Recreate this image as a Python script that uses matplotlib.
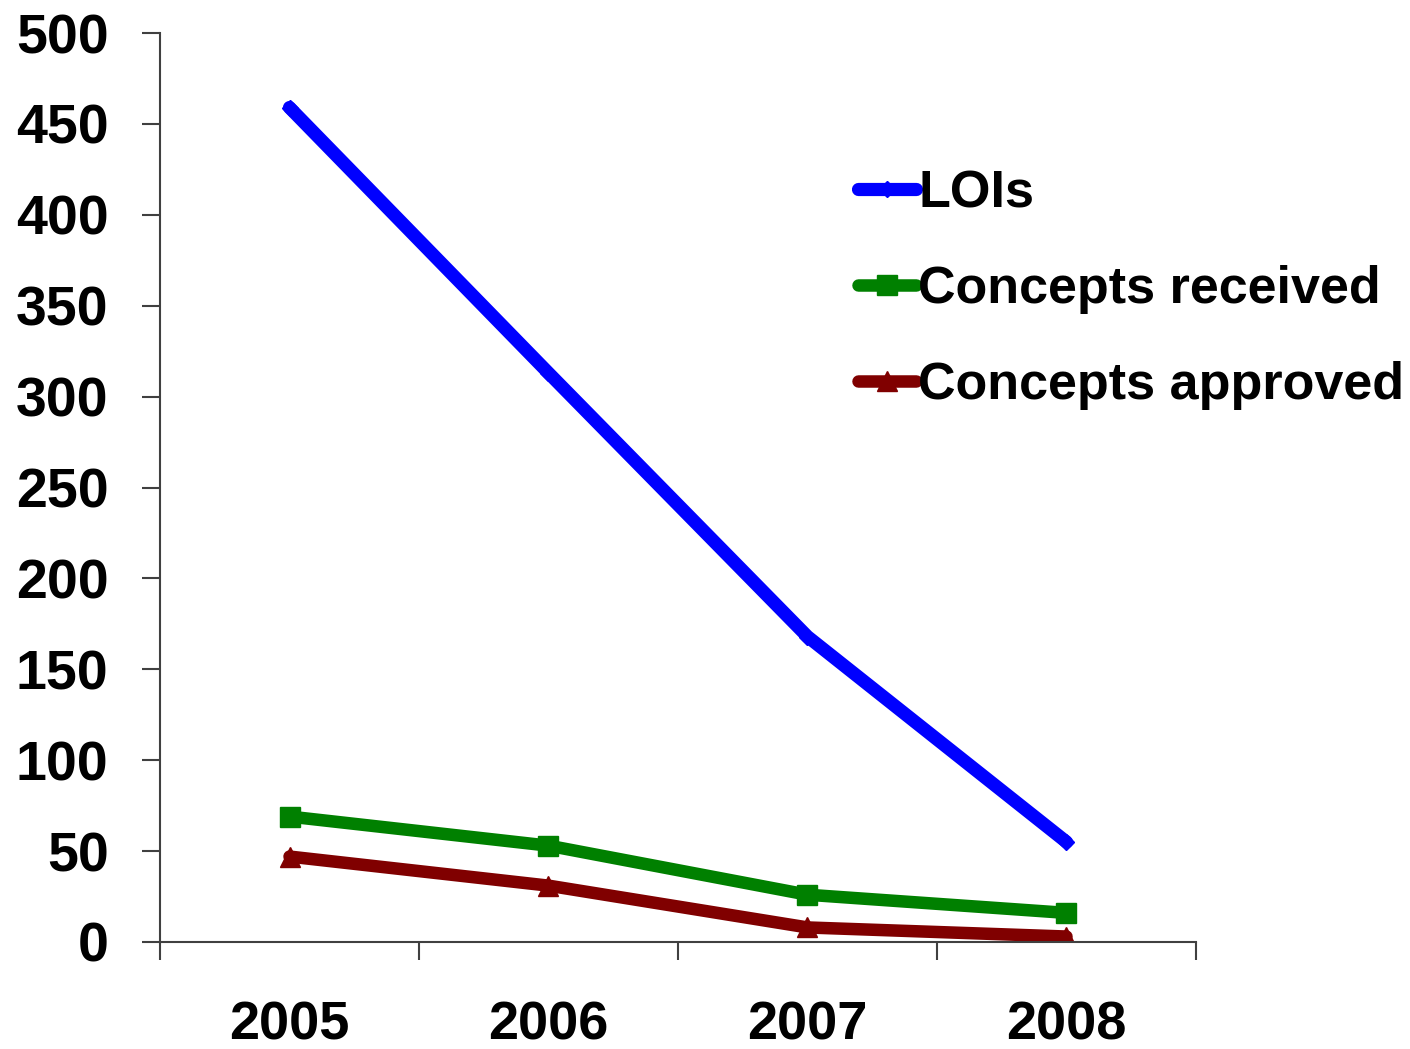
import matplotlib.pyplot as plt
from matplotlib.ticker import FixedLocator, NullFormatter

# ── 数据 ──────────────────────────────────────────
years = ["2005", "2006", "2007", "2008"]
lois = [459, 313, 168, 55]
concepts_received = [69, 53, 26, 16]
concepts_approved = [47, 31, 8, 3]
y_ticks = [0, 50, 100, 150, 200, 250, 300, 350, 400, 450, 500]

plt.rcParams['font.family'] = ['Liberation Sans', 'DejaVu Sans']
plt.rcParams['font.weight'] = 'bold'

fig = plt.figure(figsize=(14.1, 10.49), dpi=100)
ax = fig.add_axes([160 / 1410, 1 - 942 / 1049, (1196 - 160) / 1410, (942 - 33) / 1049])

xs = [i + 0.5 for i in range(len(years))]
ax.plot(xs, lois, color='#0000ff', lw=9.5, marker='D', ms=8,
        solid_capstyle='round', label='LOIs')
ax.plot(xs, concepts_received, color='#008000', lw=9, marker='s', ms=15,
        solid_capstyle='round', label='Concepts received')
ax.plot(xs, concepts_approved, color='#800000', lw=9, marker='^', ms=15,
        solid_capstyle='round', label='Concepts approved')

ax.set_xlim(0, len(years))
ax.set_ylim(0, 500)
ax.set_yticks(y_ticks)
ax.set_yticklabels([str(v) for v in y_ticks], fontsize=40, fontweight='bold')

# 分类边界刻度 + 居中标签
ax.xaxis.set_major_locator(FixedLocator(range(len(years) + 1)))
ax.xaxis.set_major_formatter(NullFormatter())
ax.xaxis.set_minor_locator(FixedLocator(xs))
ax.set_xticklabels(years, minor=True, fontsize=39, fontweight='bold')
ax.tick_params(axis='x', which='minor', length=0, pad=42)
ax.tick_params(axis='x', which='major', length=13, width=1.5, color='#404040')
ax.tick_params(axis='y', length=13, width=1.5, color='#404040', pad=24)

for side in ['top', 'right']:
    ax.spines[side].set_visible(False)
for side in ['left', 'bottom']:
    ax.spines[side].set_color('#404040')
    ax.spines[side].set_linewidth(1.5)

leg = ax.legend(loc='upper left', bbox_to_anchor=(0.654, 0.873), frameon=False,
                fontsize=37.5, handlelength=1.1, handletextpad=0.05,
                labelspacing=0.9, markerscale=1.0, borderaxespad=0)
for t in leg.get_texts():
    t.set_fontweight('bold')

fig.savefig('out.png', dpi=100)
